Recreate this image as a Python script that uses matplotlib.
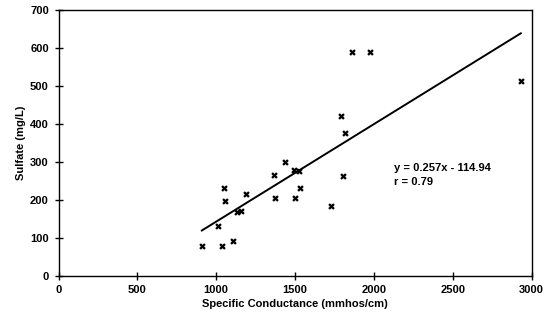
import matplotlib
matplotlib.use("Agg")
import matplotlib.pyplot as plt
import numpy as np

# Data
conductance = [909, 1036, 1011, 1104, 1049, 1053, 1132, 1159, 1187, 1365, 1376,
               1435, 1493, 1527, 1501, 1531, 1726, 1790, 1820, 1807, 1860, 1973, 2932]
sulfate = [79, 79, 130, 91, 231, 197, 167, 171, 216, 264, 204,
           298, 279, 276, 204, 232, 182, 420, 375, 263, 589, 589, 514]
slope = 0.257
intercept = -114.94
r_value = 0.79
x_ticks = [0, 500, 1000, 1500, 2000, 2500, 3000]
y_ticks = [0, 100, 200, 300, 400, 500, 600, 700]

plt.rcParams['font.family'] = ['Liberation Sans', 'DejaVu Sans']
plt.rcParams['font.weight'] = 'bold'

fig = plt.figure(figsize=(5.5, 3.23), dpi=100)
ax = fig.add_axes([0.1064, 0.147, 0.86, 0.822])

ax.scatter(conductance, sulfate, marker='X', s=22, color='black', linewidths=0, zorder=3)

xl = np.array([min(conductance), max(conductance)])
ax.plot(xl, slope * xl + intercept, color='black', linewidth=1.4)

ax.text(2127, 296, f"y = {slope}x - {abs(intercept)}\nr = {r_value}",
        fontsize=8, fontweight='bold', va='top', ha='left', linespacing=1.45)

ax.set_xlim(0, 3000)
ax.set_ylim(0, 700)
ax.set_xticks(x_ticks)
ax.set_yticks(y_ticks)
ax.tick_params(direction='inout', length=6, width=1, labelsize=8, pad=4)
for lab in ax.get_xticklabels() + ax.get_yticklabels():
    lab.set_fontweight('bold')
for s in ax.spines.values():
    s.set_linewidth(1.0)

ax.set_xlabel("Specific Conductance (mmhos/cm)", fontsize=8, fontweight='bold', labelpad=3)
ax.set_ylabel("Sulfate (mg/L)", fontsize=8, fontweight='bold', labelpad=3)

fig.savefig("out.png", dpi=100)
